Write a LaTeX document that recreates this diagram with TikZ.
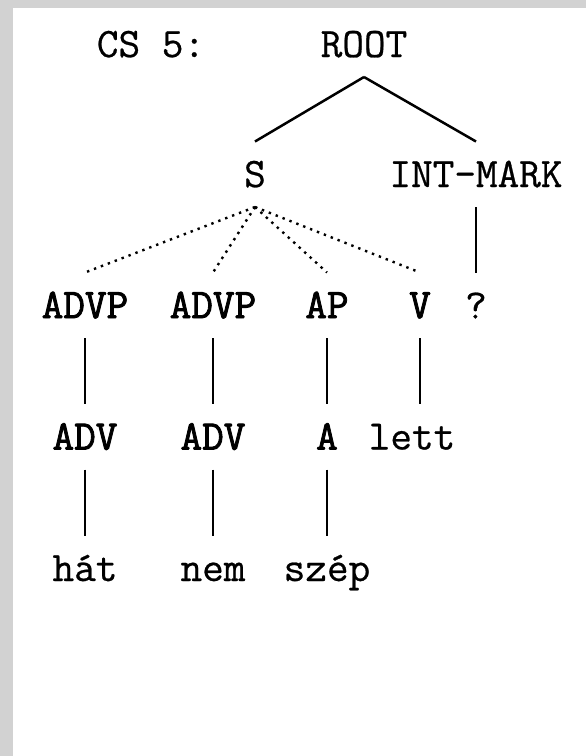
\documentclass[tikz,border=0pt]{standalone}
\usepackage{fontspec}
\newfontfamily\treett{Latin Modern Mono}[FakeBold=0.6]
\newfontfamily\cattt{Latin Modern Mono}[FakeBold=2]
\usetikzlibrary{positioning}
\definecolor{bordergray}{RGB}{210,210,210}

\begin{document}
\begin{tikzpicture}[x=1pt,y=1pt,node distance=131.5pt,
  tree node/.style={font=\fontsize{42}{42}\selectfont\treett,inner sep=0pt,
    outer sep=20pt,text height=25.5pt,text depth=0pt,anchor=base},
  cat node/.style={tree node,font=\fontsize{42}{42}\selectfont\cattt},
  branch/.style={line width=2.5pt},
  dotbranch/.style={line width=2.4pt,dash pattern=on 2.4pt off 5pt}]

\useasboundingbox (0,0) rectangle (586,-756);
\fill[white] (0,0) rectangle (586,-756);
\fill[bordergray] (0,0) rectangle (13,-756);
\fill[bordergray] (0,0) rectangle (586,-8);

\node[tree node] (cs) at (151,-57) {CS 5:};
\node[tree node] (root) at (364,-57) {ROOT};
\node[tree node] (s) at (255,-187) {S};
\node[tree node] (intmark) at (476,-187) {INT-MARK};
\node[cat node] (advp1) at (85,-318) {ADVP};
\node[cat node] (advp2) at (213,-318) {ADVP};
\node[cat node] (ap) at (327,-318) {AP};
\node[cat node] (v) at (420,-318) {V};
\node[tree node] (qmark) [below of=intmark] {?};
\node[cat node] (adv1) [below of=advp1] {ADV};
\node[cat node] (adv2) [below of=advp2] {ADV};
\node[cat node] (a) [below of=ap] {A};
\node[tree node] (lett) [below of=v, xshift=-8pt] {lett};
\node[tree node] (hat) [below of=adv1] {hát};
\node[tree node] (nem) [below of=adv2] {nem};
\node[tree node] (szep) [below of=a] {szép};

\draw[branch] (root.south) -- (s.north);
\draw[branch] (root.south) -- (intmark.north);
\draw[branch] (intmark.south) -- (qmark.north);
\foreach \kid in {advp1,advp2,ap,v}
  \draw[dotbranch] (s.south) -- (\kid.north);
\draw[branch] (advp1.south) -- (adv1.north);
\draw[branch] (advp2.south) -- (adv2.north);
\draw[branch] (ap.south) -- (a.north);
\draw[branch] (v.south) -- (v.south |- lett.north);
\draw[branch] (adv1.south) -- (hat.north);
\draw[branch] (adv2.south) -- (nem.north);
\draw[branch] (a.south) -- (szep.north);
\end{tikzpicture}
\end{document}
